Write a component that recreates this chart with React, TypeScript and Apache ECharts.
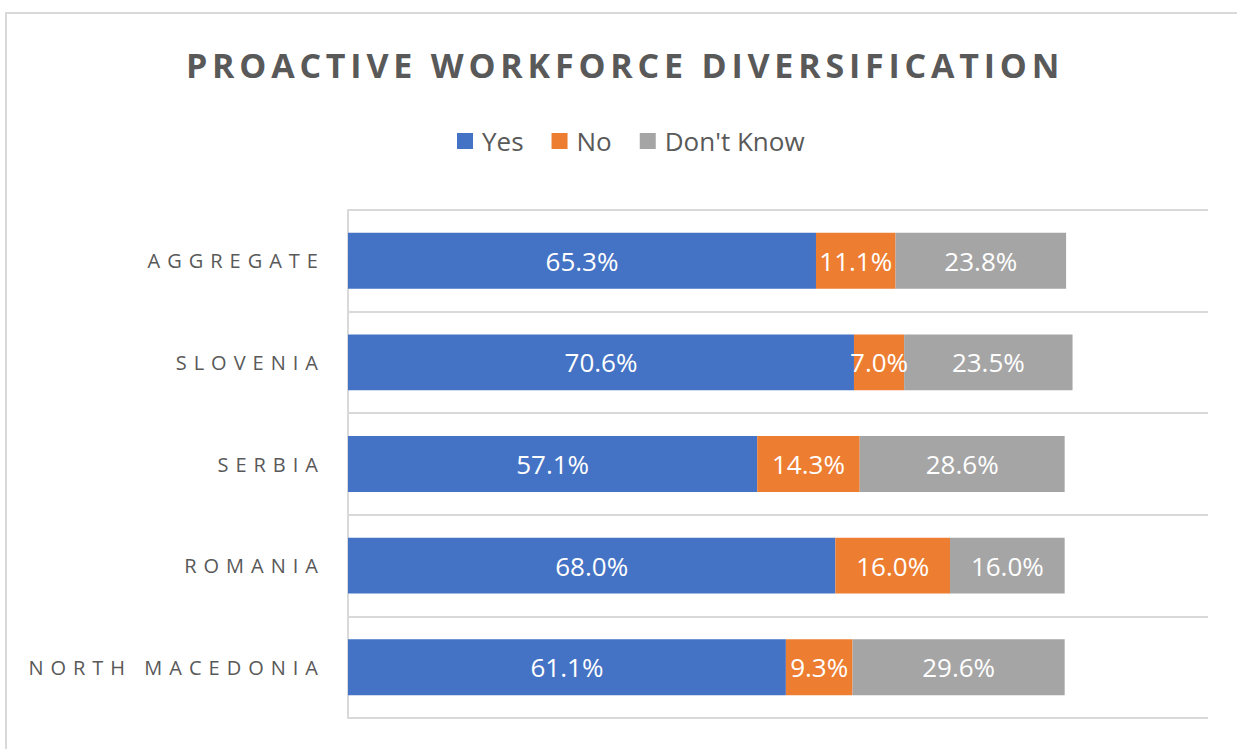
import React, { useEffect, useRef } from "react";
import * as echarts from "echarts";

const TITLE = "PROACTIVE WORKFORCE DIVERSIFICATION";
const categories = ["NORTH MACEDONIA", "ROMANIA", "SERBIA", "SLOVENIA", "AGGREGATE"];
const seriesNames = ["Yes", "No", "Don't Know"];
const yesValues = [61.1, 68.0, 57.1, 70.6, 65.3];
const noValues = [9.3, 16.0, 14.3, 7.0, 11.1];
const dontKnowValues = [29.6, 16.0, 28.6, 23.5, 23.8];
const colors = ["#4472C4", "#ED7D31", "#A5A5A5"];

const FONT = "'Open Sans', 'Noto Sans', sans-serif";

export default function App() {
  const ref = useRef<HTMLDivElement>(null);

  useEffect(() => {
    const el = ref.current!;
    const chart = echarts.init(el, null, { renderer: "svg" });

    const applySpacing = () => {
      el.querySelectorAll("text").forEach((t) => {
        const s = (t.textContent || "").trim();
        if (s === TITLE) (t as SVGTextElement).style.letterSpacing = "4.8px";
        else if (categories.includes(s)) (t as SVGTextElement).style.letterSpacing = "7px";
      });
    };

    const values = [yesValues, noValues, dontKnowValues];

    chart.setOption({
      animation: false,
      backgroundColor: "#ffffff",
      textStyle: { fontFamily: FONT },
      title: {
        text: TITLE,
        left: 620,
        top: 43,
        textAlign: "center",
        textStyle: { fontFamily: FONT, fontSize: 34, fontWeight: "bold", color: "#595959" },
      },
      legend: {
        data: seriesNames,
        left: 457,
        top: 128,
        padding: 0,
        itemWidth: 16,
        itemHeight: 16,
        itemGap: 28,
        icon: "rect",
        textStyle: { fontFamily: FONT, fontSize: 26, color: "#595959", padding: [0, 0, 0, 4] },
      },
      graphic: [
        {
          type: "rect",
          shape: { x: 6, y: 13, width: 1400, height: 900 },
          style: { fill: "none", stroke: "#d9d9d9", lineWidth: 2 },
          silent: true,
        },
      ],
      grid: { left: 348, right: 29, top: 210, bottom: 31, containLabel: false },
      xAxis: {
        type: "value",
        min: 0,
        max: 120,
        show: false,
        splitLine: { show: false },
      },
      yAxis: {
        type: "category",
        data: categories,
        axisTick: { show: false },
        axisLine: { show: true, lineStyle: { color: "#d9d9d9", width: 2 } },
        splitLine: { show: true, lineStyle: { color: "#d9d9d9", width: 2 } },
        axisLabel: {
          fontFamily: FONT,
          fontSize: 20,
          color: "#595959",
          margin: 23,
        },
      },
      series: seriesNames.map((name, i) => ({
        name,
        type: "bar",
        stack: "total",
        barWidth: "55%",
        data: values[i],
        itemStyle: { color: colors[i] },
        label: {
          show: true,
          position: "inside",
          color: "#ffffff",
          fontFamily: FONT,
          fontSize: 26,
          formatter: (p: any) => Number(p.value).toFixed(1) + "%",
        },
      })),
    });

    chart.on("finished", applySpacing);
    applySpacing();

    return () => {
      chart.dispose();
    };
  }, []);

  return (
    <div
      ref={ref}
      style={{ position: "fixed", left: 0, top: 0, width: 1237, height: 749 }}
    />
  );
}
